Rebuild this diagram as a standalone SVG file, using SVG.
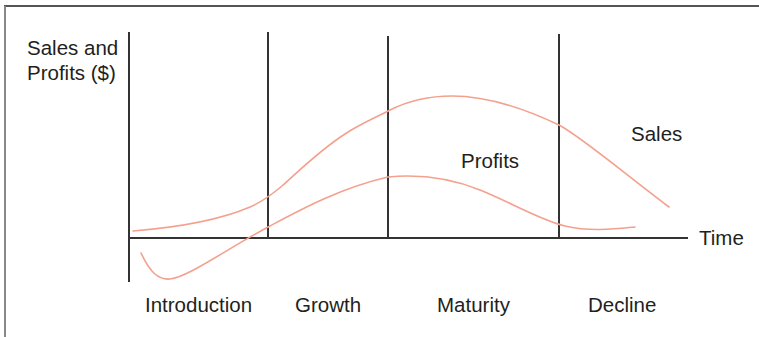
<svg xmlns="http://www.w3.org/2000/svg" width="759" height="337" viewBox="0 0 759 337">
<style>
.t{font-family:"Liberation Sans",Arial,sans-serif;font-size:20.5px;fill:#231f20}
.ax{stroke:#333;stroke-width:2;fill:none}
.cv{stroke:#f4a08e;stroke-width:1.6;fill:none;stroke-linecap:round}
</style>
<rect width="759" height="337" fill="#fff"/>
<g id="frame">
<line x1="4" y1="6" x2="759" y2="6" stroke="#555" stroke-width="2"/>
<line x1="5" y1="6" x2="5" y2="337" stroke="#888" stroke-width="2"/>
</g>
<g id="axes">
<line class="ax" x1="129" y1="32" x2="129" y2="282"/>
<line class="ax" x1="129" y1="238" x2="688" y2="238"/>
<line class="ax" x1="268" y1="32" x2="268" y2="238"/>
<line class="ax" x1="388" y1="36" x2="388" y2="238"/>
<line class="ax" x1="559" y1="34" x2="559" y2="238"/>
</g>
<g id="sales-curve">
<path class="cv" d="M133,231 C170,228 215,222 250,207 C262,202 270,196 282,186 C300,170 320,150 345,134 C360,124 375,118 390,110 C410,100 430,96 452,96 C480,96 515,104 559,125 C580,136 620,170 669,207"/>
</g>
<g id="profits-curve">
<path class="cv" d="M141,253 C150,272 158,280 170,279 C188,277 222,252 268,227 C300,210 340,188 388,177 C420,174 450,178 480,190 C510,202 540,220 565,226 C590,232 615,229 635,227"/>
</g>
<g id="labels">
<text class="t" x="27" y="55">Sales and</text>
<text class="t" x="27" y="80">Profits ($)</text>
<text class="t" x="631" y="141">Sales</text>
<text class="t" x="461" y="168">Profits</text>
<text class="t" x="699" y="245">Time</text>
<text class="t" x="145" y="312">Introduction</text>
<text class="t" x="295" y="312">Growth</text>
<text class="t" x="437" y="312">Maturity</text>
<text class="t" x="588" y="312">Decline</text>
</g>
</svg>
